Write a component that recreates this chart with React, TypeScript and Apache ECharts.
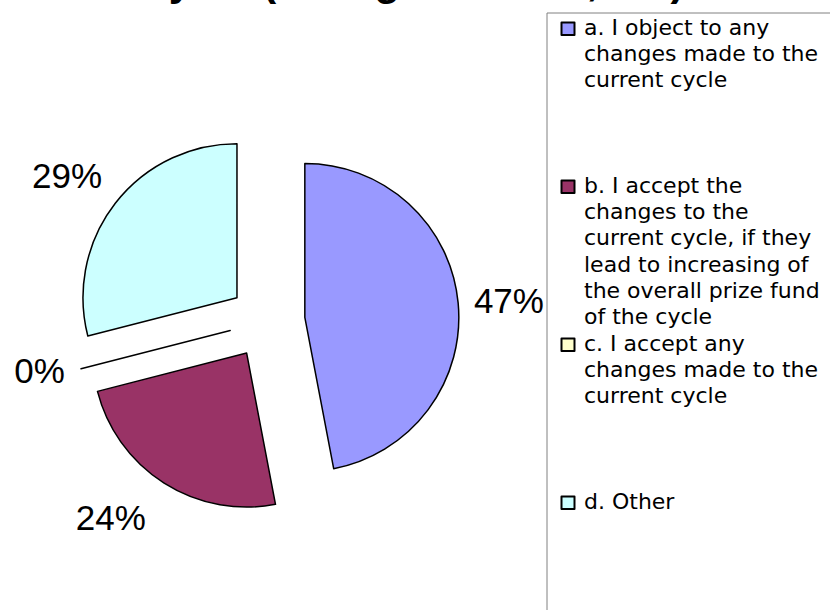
import React, { useEffect, useRef } from 'react';
import * as echarts from 'echarts';

const categories = [
  'a. I object to any changes made to the current cycle',
  'b. I accept the changes to the current cycle, if they lead to increasing of the overall prize fund of the cycle',
  'c. I accept any changes made to the current cycle',
  'd. Other',
];
const values = [47, 24, 0, 29];
const legendLines = [
  ['a. I object to any', 'changes made to the', 'current cycle'],
  ['b. I accept the', 'changes to the', 'current cycle, if they', 'lead to increasing of', 'the overall prize fund', 'of the cycle'],
  ['c. I accept any', 'changes made to the', 'current cycle'],
  ['d. Other'],
];
const colors = ['#9999FF', '#993366', '#FFFFCC', '#CCFFFF'];
const titleText = 'Attitude to changes in the current\ncycle (change of rules, etc)';
const labelNudges = [[0, 2], [-26, -9], [8, -11], [-8, 3]];

export default function App() {
  const ref = useRef<HTMLDivElement>(null);
  useEffect(() => {
    const chart = echarts.init(ref.current!, null, { renderer: 'svg' });
    const slotLines = 6;
    const lineH = 26.25;
    const textH = slotLines * lineH;
    const iconH = textH - 1.5;
    const wrapped: Record<string, string> = {};
    categories.forEach((c, i) => {
      const lines = legendLines[i].slice();
      while (lines.length < slotLines) lines.push('');
      wrapped[c] = lines.join('\n');
    });
    const sqTop = 7.5;
    const sqBot = 20;
    const icon = `path://M0,0M0.5,${sqTop}L13.5,${sqTop}L13.5,${sqBot}L0.5,${sqBot}ZM18,${iconH}`;
    const pieData = categories.map((name, i) => ({
      name,
      value: values[i],
      selected: true,
      itemStyle: { color: colors[i] },
    }));
    const labelData = categories.map((name, i) => ({
      name,
      value: values[i],
      selected: true,
    }));
    chart.setOption({
      animation: false,
      backgroundColor: '#ffffff',
      title: {
        text: titleText,
        left: 'center',
        top: -97,
        textStyle: {
          fontSize: 42,
          fontWeight: 'bold',
          fontFamily: 'Liberation Sans',
          lineHeight: 48,
          color: '#000',
        },
      },
      legend: {
        orient: 'vertical',
        left: 547,
        top: 13,
        height: 760,
        padding: [1, 40, 0, 13],
        itemGap: 0,
        itemWidth: 18,
        itemHeight: iconH,
        icon,
        selectedMode: false,
        borderColor: '#808080',
        borderWidth: 1,
        textStyle: {
          fontFamily: 'DejaVu Sans',
          fontSize: 22,
          lineHeight: lineH,
          color: '#000',
        },
        formatter: (name: string) => wrapped[name] ?? name,
        data: categories,
      },
      series: [
        {
          type: 'pie',
          center: [267, 321],
          radius: [0, 154],
          startAngle: 90,
          clockwise: true,
          selectedMode: 'multiple',
          selectedOffset: 38,
          avoidLabelOverlap: false,
          label: { show: false },
          labelLine: { show: false },
          itemStyle: { borderColor: '#000', borderWidth: 1.5 },
          emphasis: { disabled: true },
          data: pieData,
        },
        {
          type: 'pie',
          center: [267, 321],
          radius: [0, 404],
          startAngle: 90,
          clockwise: true,
          selectedMode: 'multiple',
          selectedOffset: 38,
          avoidLabelOverlap: false,
          silent: true,
          legendHoverLink: false,
          itemStyle: { color: 'rgba(0,0,0,0)', borderWidth: 0 },
          label: {
            show: true,
            position: 'inside',
            formatter: '{c}%',
            fontSize: 35,
            fontFamily: 'Liberation Sans',
            color: '#000',
          },
          labelLine: { show: false },
          labelLayout: (p: any) => ({ dx: labelNudges[p.dataIndex][0], dy: labelNudges[p.dataIndex][1] }),
          emphasis: { disabled: true },
          data: labelData,
        },
      ],
    });
    return () => chart.dispose();
  }, []);
  return <div ref={ref} style={{ position: 'fixed', left: 0, top: 0, width: 830, height: 610 }} />;
}
